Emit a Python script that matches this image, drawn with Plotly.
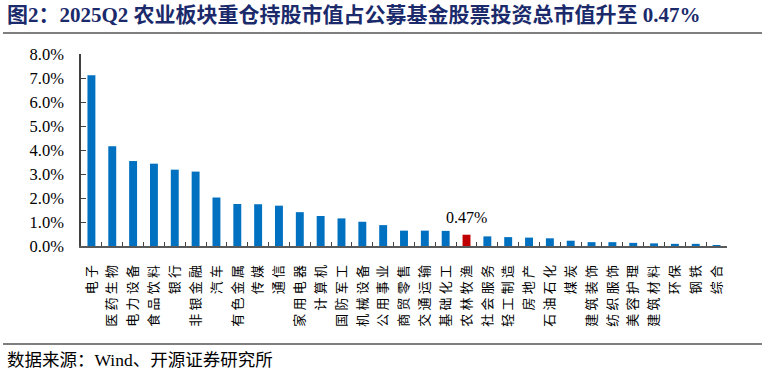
import base64
import plotly.graph_objects as go

categories = ["电子", "医药生物", "电力设备", "食品饮料", "银行", "非银金融", "汽车", "有色金属",
              "传媒", "通信", "家用电器", "计算机", "国防军工", "机械设备", "公用事业", "商贸零售",
              "交通运输", "基础化工", "农林牧渔", "社会服务", "轻工制造", "房地产", "石油石化", "煤炭",
              "建筑装饰", "纺织服饰", "美容护理", "建筑材料", "环保", "钢铁", "综合"]
values = [7.11, 4.16, 3.54, 3.43, 3.18, 3.10, 2.02, 1.75, 1.74, 1.68, 1.41, 1.25, 1.15, 1.01,
          0.87, 0.64, 0.64, 0.63, 0.47, 0.40, 0.37, 0.35, 0.32, 0.22, 0.16, 0.16, 0.13, 0.11,
          0.09, 0.09, 0.02]
highlight = "农林牧渔"
highlight_label = "0.47%"
y_ticks = [0, 1, 2, 3, 4, 5, 6, 7, 8]

title_text = "图2：2025Q2 农业板块重仓持股市值占公募基金股票投资总市值升至 0.47%"
source_text = "数据来源：Wind、开源证券研究所"

W, H = 765, 374
PLOT_L, PLOT_R, PLOT_T, PLOT_B = 81, 727, 54, 246
RULE_L, RULE_R = 3, 762
RULE_YS = (33, 344)


def fx(x):
    return x / W


def fy(y):
    return 1 - y / H


SERIF = "Liberation Serif, Noto Sans CJK SC, serif"
BLUE = "#0070C0"
RED = "#C00000"
RULE = "#7F7F7F"

colors = [RED if c == highlight else BLUE for c in categories]
tick_text = [" ".join(list(c)) for c in categories]

fig = go.Figure()
fig.add_trace(go.Bar(x=categories, y=values, marker=dict(color=colors, line=dict(width=0)),
                     hoverinfo="skip", xaxis="x", yaxis="y"))

# horizontal rules (title underline / source overline) on a full-page overlay axis in pixel units
rx, ry = [], []
for yy in RULE_YS:
    rx += [RULE_L, RULE_R, None]
    ry += [yy, yy, None]
fig.add_trace(go.Scatter(x=rx, y=ry, mode="lines", line=dict(color=RULE, width=2),
                         xaxis="x2", yaxis="y2", hoverinfo="skip", showlegend=False))

# same rules as a transparent overlay image (fallback renderer)
svg = (f'<svg xmlns="http://www.w3.org/2000/svg" width="{W}" height="{H}" viewBox="0 0 {W} {H}">'
       + "".join(f'<line x1="{RULE_L}" y1="{yy}" x2="{RULE_R}" y2="{yy}" stroke="{RULE}" '
                 f'stroke-width="2"/>' for yy in RULE_YS)
       + "</svg>")
fig.add_layout_image(source="data:image/svg+xml;base64," + base64.b64encode(svg.encode()).decode(),
                     xref="paper", yref="paper", x=0, y=1, sizex=1, sizey=1,
                     xanchor="left", yanchor="top", sizing="stretch", layer="above")

hi_idx = categories.index(highlight)
fig.add_annotation(x=categories[hi_idx], y=values[hi_idx], text=highlight_label,
                   xref="x", yref="y",
                   showarrow=False, yanchor="bottom", yshift=7,
                   font=dict(family=SERIF, size=16, color="#000000"))

fig.add_annotation(xref="paper", yref="paper", x=fx(5), y=fy(15), xanchor="left", yanchor="middle",
                   text="<b>" + title_text + "</b>", showarrow=False,
                   font=dict(family=SERIF, size=21, color="#1B2A6B"))
fig.add_annotation(xref="paper", yref="paper", x=fx(5), y=fy(360), xanchor="left", yanchor="middle",
                   text=source_text, showarrow=False,
                   font=dict(family=SERIF, size=17.5, color="#000000"))

fig.update_layout(
    width=W, height=H,
    margin=dict(l=0, r=0, t=0, b=0, pad=0, autoexpand=False),
    paper_bgcolor="white", plot_bgcolor="rgba(0,0,0,0)",
    showlegend=False,
    bargap=0.62,
    font=dict(family=SERIF, color="#000000"),
    xaxis=dict(
        domain=[fx(PLOT_L), fx(PLOT_R)], anchor="y",
        type="category", range=[-0.5, len(categories) - 0.5],
        tickmode="array", tickvals=categories, ticktext=tick_text,
        tickangle=-90, tickfont=dict(family=SERIF, size=13, color="#000000"),
        tickson="boundaries", ticks="inside", ticklen=4, tickcolor="#404040", tickwidth=1,
        showline=True, linecolor="#595959", linewidth=1.5,
        showgrid=False, zeroline=False, ticklabelstandoff=12, automargin=False,
    ),
    yaxis=dict(
        domain=[fy(PLOT_B), fy(PLOT_T)], anchor="x",
        range=[0, 8], tickmode="array", tickvals=y_ticks,
        ticktext=[f"{v:.1f}%" for v in y_ticks],
        tickfont=dict(family=SERIF, size=16.5, color="#000000"),
        ticks="inside", ticklen=5, tickcolor="#404040", tickwidth=1,
        showline=True, linecolor="#404040", linewidth=1.5,
        showgrid=False, zeroline=False, ticklabelstandoff=12, automargin=False,
    ),
    xaxis2=dict(domain=[0, 1], anchor="y2", range=[0, W], visible=False, fixedrange=True),
    yaxis2=dict(domain=[0, 1], anchor="x2", range=[H, 0], visible=False, fixedrange=True),
)

fig.write_html("out.html", config={"displayModeBar": False},
               post_script="document.body.style.margin='0';document.body.style.padding='0';")
